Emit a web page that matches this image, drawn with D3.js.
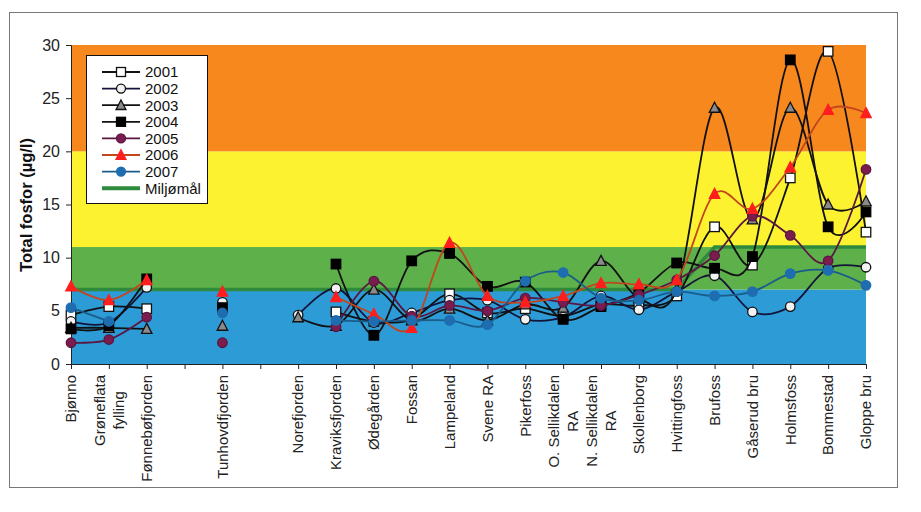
<!DOCTYPE html>
<html><head><meta charset="utf-8">
<script src="https://cdn.jsdelivr.net/npm/d3@7"></script>
<style>
html,body{margin:0;padding:0;background:#fff;}
svg{display:block;font-family:"Liberation Sans",Arial,sans-serif;}
</style></head>
<body>
<svg id="chart" width="921" height="512"></svg>
<script>
// ---------- data ----------
const categories = ["Bjønno","Grøneflata\nfylling","Fønnebøfjorden","","Tunhovdfjorden","",
  "Norefjorden","Kraviksfjorden","Ødegården","Fossan","Lampeland","Svene RA","Pikerfoss",
  "O. Sellikdalen\nRA","N. Sellikdalen\nRA","Skollenborg","Hvittingfoss","Brufoss",
  "Gåserud bru","Holmsfoss","Bommestad","Gloppe bru"];

const v2001 = [4.6,5.4,5.2,null,null,null,null,4.9,4.0,4.2,6.6,4.8,5.2,4.5,5.6,5.5,6.4,12.9,9.3,17.5,29.4,12.4];
const v2002 = [4.0,3.9,7.2,null,5.8,null,4.6,7.1,3.9,4.8,6.0,6.0,4.2,4.4,6.4,5.1,6.8,8.3,4.9,5.4,9.0,9.1];
const v2003 = [3.4,3.4,3.3,null,3.6,null,4.4,3.6,7.0,4.1,5.2,4.1,5.6,5.3,9.7,6.2,7.0,24.1,13.6,24.1,15.0,15.3];
const v2004 = [3.3,3.6,8.0,null,5.3,null,null,9.4,2.7,9.7,10.4,7.3,7.7,4.2,5.4,6.7,9.5,9.0,10.1,28.6,12.9,14.3];
const v2005 = [2.0,2.3,4.4,null,2.0,null,null,3.5,7.8,4.5,5.5,5.0,6.2,5.8,5.5,6.5,7.9,10.2,13.9,12.1,9.7,18.3];
const v2006 = [7.3,6.0,7.9,null,6.8,null,null,6.3,4.7,3.4,11.4,6.4,5.8,6.4,7.6,7.5,7.9,16.0,14.6,18.5,23.9,23.6];
const v2007 = [5.3,4.0,null,null,4.8,null,null,4.1,4.0,4.1,4.1,3.7,7.8,8.6,6.2,6.0,6.8,6.4,6.8,8.5,8.8,7.4];
const miljomal = [7,7,7,7,7,7,7,7,7,7,7,7,7,7,7,7,7,11,11,11,11,11];

const seriesNames = ["2001","2002","2003","2004","2005","2006","2007"];
const seriesValues = [v2001,v2002,v2003,v2004,v2005,v2006,v2007];
const yTicks = [0,5,10,15,20,25,30];
const bandLimits = [0,7,11,20,30];
const yTitle = "Total fosfor (µg/l)";
const legendMiljo = "Miljømål";

// ---------- styles ----------
const bandColors = ["#2C9BD6","#5DB04A","#FDF22F","#F7881E"];
const styles = [
  {line:"#111", shape:"square",   fill:"#ffffff", stroke:"#111"},
  {line:"#14143a", shape:"circle",   fill:"#f2f2f2", stroke:"#111"},
  {line:"#111", shape:"triangle", fill:"#8a8a8a", stroke:"#111"},
  {line:"#111", shape:"square",   fill:"#000000", stroke:"#000"},
  {line:"#5a1742", shape:"circle",   fill:"#7a1c4e", stroke:"#5a1742"},
  {line:"#c2461c", shape:"triangle", fill:"#ff1e1e", stroke:"#ff1e1e"},
  {line:"#1b5d8a", shape:"circle",   fill:"#1e6db0", stroke:"#1e6db0"}
];

const svg = d3.select("#chart");
const x = d3.scalePoint().domain(d3.range(categories.length)).range([71,866]);
const y = d3.scaleLinear().domain([0,30]).range([364,45]);

// outer frame
svg.append("rect").attr("x",9.5).attr("y",12.5).attr("width",888).attr("height",475)
  .attr("fill","#fff").attr("stroke","#777").attr("stroke-width",1);

// bands
const bands = d3.range(bandColors.length).map(i=>({lo:bandLimits[i],hi:bandLimits[i+1],c:bandColors[i]}));
svg.append("g").selectAll("rect").data(bands).join("rect")
  .attr("x",x(0)).attr("width",x(categories.length-1)-x(0))
  .attr("y",d=>y(d.hi)).attr("height",d=>y(d.lo)-y(d.hi))
  .attr("fill",d=>d.c);

// Miljømål line
const miljoLine = d3.line().x((d,i)=>x(i)).y(d=>y(d));
svg.append("path").datum(miljomal).attr("d",miljoLine)
  .attr("fill","none").attr("stroke","#2E8A3C").attr("stroke-width",3.5);

// axes
const yAxis = d3.axisLeft(y).tickValues(yTicks).tickSize(5).tickPadding(6);
const gy = svg.append("g").attr("transform",`translate(${x(0)},0)`).call(yAxis);
gy.selectAll("text").attr("font-size",16).attr("fill","#222").attr("font-family","Liberation Sans, Arial, sans-serif");
gy.selectAll("line,path").attr("stroke","#222");

const xAxis = d3.axisBottom(x).tickSize(5).tickFormat("");
const gx = svg.append("g").attr("transform",`translate(0,${y(0)})`).call(xAxis);
gx.selectAll("line,path").attr("stroke","#222");

// x labels (rotated, multi-line centred)
const lab = svg.append("g").attr("font-size",15).attr("fill","#222");
categories.forEach((c,i)=>{
  if(!c) return;
  const lines = c.split("\n");
  const g = lab.append("g").attr("transform",`translate(${x(i)},375) rotate(-90)`);
  const ts = lines.map((l,k)=>g.append("text").text(l)
      .attr("y",(k-(lines.length-1)/2)*19).attr("dy","0.35em"));
  const maxL = d3.max(ts,t=>t.node().getComputedTextLength());
  ts.forEach(t=>t.attr("x",-maxL/2).attr("text-anchor","middle"));
});

// y title
svg.append("text").text(yTitle).attr("transform","translate(32,205) rotate(-90)")
  .attr("text-anchor","middle").attr("font-size",16.5).attr("font-weight","bold").attr("fill","#111");

// markers
function marker(sel, shape, cx, cy, st, s){
  if(shape==="square"){
    sel.append("rect").attr("x",cx-s/2).attr("y",cy-s/2).attr("width",s).attr("height",s)
      .attr("fill",st.fill).attr("stroke",st.stroke).attr("stroke-width",1.3);
  } else if(shape==="circle"){
    sel.append("circle").attr("cx",cx).attr("cy",cy).attr("r",s/2)
      .attr("fill",st.fill).attr("stroke",st.stroke).attr("stroke-width",1.3);
  } else {
    const h=s*0.95, w=s*1.1;
    sel.append("path").attr("d",`M${cx},${cy-h/2-1}L${cx+w/2},${cy+h/2}L${cx-w/2},${cy+h/2}Z`)
      .attr("fill",st.fill).attr("stroke",st.stroke).attr("stroke-width",1.3);
  }
}

// series
const line = d3.line().defined(d=>d!=null).x((d,i)=>x(i)).y(d=>y(d)).curve(d3.curveCardinal.tension(0));
seriesValues.forEach((vals,si)=>{
  const st = styles[si];
  const g = svg.append("g");
  g.append("path").datum(vals).attr("d",line).attr("fill","none")
    .attr("stroke",st.line).attr("stroke-width",1.8);
  vals.forEach((v,i)=>{ if(v!=null) marker(g, st.shape, x(i), y(v), st, 9.5); });
});

// legend
const lg = svg.append("g");
lg.append("rect").attr("x",86.5).attr("y",55.5).attr("width",121).attr("height",148)
  .attr("fill","#fff").attr("stroke","#111").attr("stroke-width",1);
seriesNames.forEach((n,i)=>{
  const yy = 72 + i*16.6, st = styles[i];
  lg.append("line").attr("x1",102).attr("x2",140).attr("y1",yy).attr("y2",yy)
    .attr("stroke",st.line).attr("stroke-width",1.8);
  marker(lg, st.shape, 121, yy, st, 9);
  lg.append("text").text(n).attr("x",145).attr("y",yy).attr("dy","0.36em")
    .attr("font-size",15).attr("fill","#111");
});
{
  const yy = 72 + 7*16.6;
  lg.append("line").attr("x1",102).attr("x2",140).attr("y1",yy).attr("y2",yy)
    .attr("stroke","#2E8A3C").attr("stroke-width",4);
  lg.append("text").text(legendMiljo).attr("x",145).attr("y",yy).attr("dy","0.36em")
    .attr("font-size",15).attr("fill","#111");
}
</script>
</body></html>
